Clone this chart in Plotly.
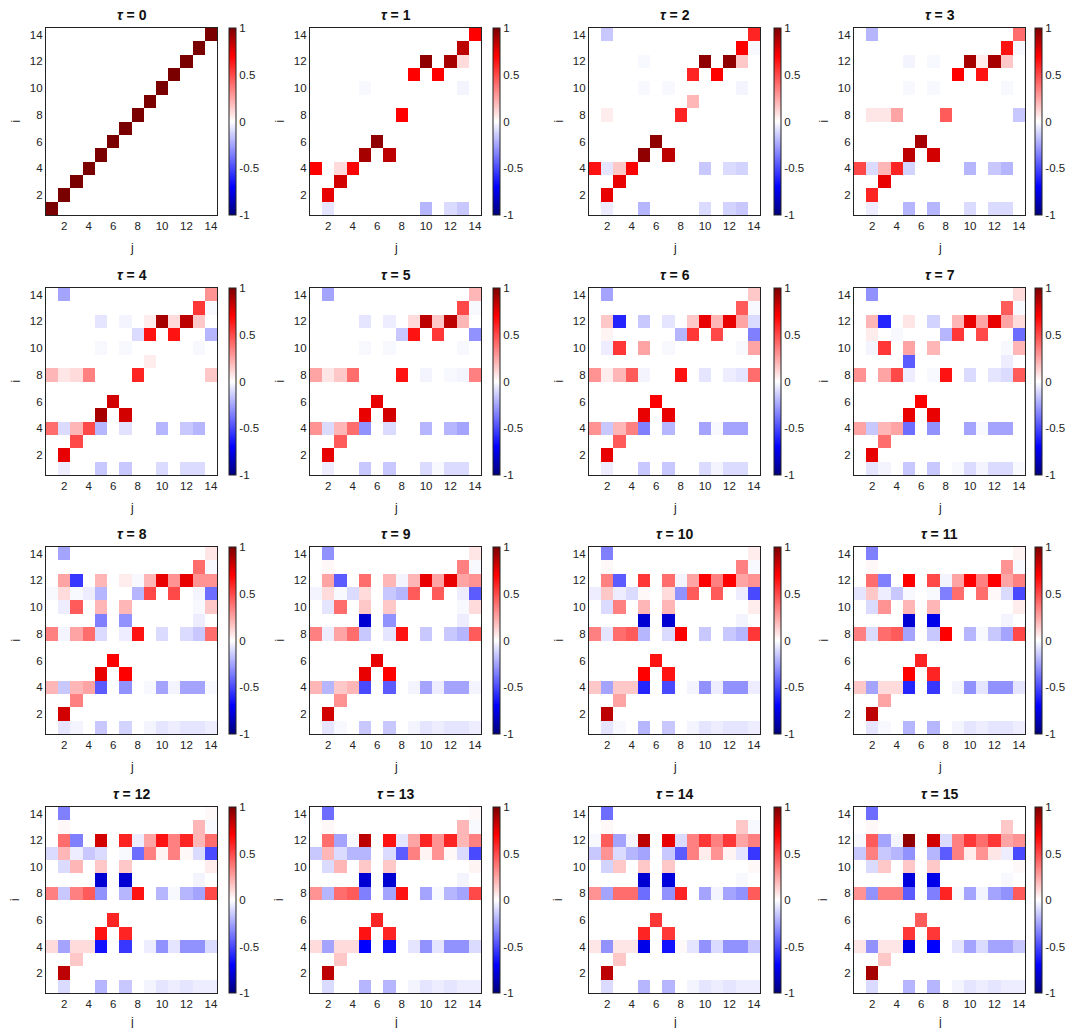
import plotly.graph_objects as go

# grid labels
i_rows = list(range(14, 0, -1))   # matrices below are written top row (i=14) first
j_cols = list(range(1, 15))
tick_vals = [2, 4, 6, 8, 10, 12, 14]
cbar_vals = [-1, -0.5, 0, 0.5, 1]
cbar_text = ["-1", "-0.5", "0", "0.5", "1"]
taus = list(range(16))

tau_00 = [
    [0, 0, 0, 0, 0, 0, 0, 0, 0, 0, 0, 0, 0, 1],
    [0, 0, 0, 0, 0, 0, 0, 0, 0, 0, 0, 0, 1, 0],
    [0, 0, 0, 0, 0, 0, 0, 0, 0, 0, 0, 1, 0, 0],
    [0, 0, 0, 0, 0, 0, 0, 0, 0, 0, 1, 0, 0, 0],
    [0, 0, 0, 0, 0, 0, 0, 0, 0, 1, 0, 0, 0, 0],
    [0, 0, 0, 0, 0, 0, 0, 0, 1, 0, 0, 0, 0, 0],
    [0, 0, 0, 0, 0, 0, 0, 1, 0, 0, 0, 0, 0, 0],
    [0, 0, 0, 0, 0, 0, 1, 0, 0, 0, 0, 0, 0, 0],
    [0, 0, 0, 0, 0, 1, 0, 0, 0, 0, 0, 0, 0, 0],
    [0, 0, 0, 0, 1, 0, 0, 0, 0, 0, 0, 0, 0, 0],
    [0, 0, 0, 1, 0, 0, 0, 0, 0, 0, 0, 0, 0, 0],
    [0, 0, 1, 0, 0, 0, 0, 0, 0, 0, 0, 0, 0, 0],
    [0, 1, 0, 0, 0, 0, 0, 0, 0, 0, 0, 0, 0, 0],
    [1, 0, 0, 0, 0, 0, 0, 0, 0, 0, 0, 0, 0, 0],
]

tau_01 = [
    [0, 0, 0, 0, 0, 0, 0, 0, 0, 0, 0, 0, 0, .7],
    [0, 0, 0, 0, 0, 0, 0, 0, 0, 0, 0, 0, .85, 0],
    [0, 0, 0, 0, 0, 0, 0, 0, 0, .95, 0, .9, .1, 0],
    [0, 0, 0, 0, 0, 0, 0, 0, .7, 0, .7, 0, 0, 0],
    [0, 0, 0, 0, -.02, 0, 0, 0, 0, 0, 0, 0, -.03, 0],
    [0, 0, 0, 0, 0, 0, 0, 0, 0, 0, 0, 0, 0, 0],
    [0, 0, 0, 0, 0, 0, 0, .7, 0, 0, 0, 0, 0, 0],
    [0, 0, 0, 0, 0, 0, 0, 0, 0, 0, 0, 0, 0, 0],
    [0, 0, 0, 0, 0, .95, 0, 0, 0, 0, 0, 0, 0, 0],
    [0, 0, 0, 0, .9, 0, .85, 0, 0, 0, 0, 0, 0, 0],
    [.7, 0, .1, .7, 0, 0, 0, 0, 0, 0, 0, 0, 0, 0],
    [0, 0, .8, 0, 0, 0, 0, 0, 0, 0, 0, 0, 0, 0],
    [0, .75, 0, 0, 0, 0, 0, 0, 0, 0, 0, 0, 0, 0],
    [0, -.07, 0, 0, 0, 0, 0, 0, 0, -.2, 0, -.1, -.15, 0],
]

tau_02 = [
    [0, -.15, 0, 0, 0, 0, 0, 0, 0, 0, 0, 0, 0, .6],
    [0, 0, 0, 0, 0, 0, 0, 0, 0, 0, 0, 0, .7, -.02],
    [0, 0, 0, 0, -.02, 0, 0, 0, 0, .95, 0, .95, .15, 0],
    [0, 0, 0, 0, 0, 0, 0, 0, .6, 0, .7, 0, 0, 0],
    [0, 0, 0, 0, -.02, 0, -.02, 0, 0, 0, 0, 0, -.03, 0],
    [0, 0, 0, 0, 0, 0, 0, 0, .2, 0, 0, 0, 0, 0],
    [0, .05, 0, 0, 0, 0, 0, .6, 0, 0, 0, 0, 0, 0],
    [0, 0, 0, 0, 0, 0, 0, 0, 0, 0, 0, 0, 0, 0],
    [0, 0, 0, 0, 0, .95, 0, 0, 0, 0, 0, 0, 0, 0],
    [0, 0, 0, 0, .95, 0, .85, 0, 0, 0, 0, 0, 0, 0],
    [.65, -.07, .15, .7, 0, 0, 0, 0, 0, -.15, 0, -.1, -.12, 0],
    [0, 0, .75, 0, 0, 0, 0, 0, 0, 0, 0, 0, 0, 0],
    [0, .75, 0, 0, 0, 0, 0, 0, 0, 0, 0, 0, 0, 0],
    [0, -.05, 0, 0, -.2, 0, 0, 0, 0, -.1, 0, -.12, -.15, 0],
]

tau_03 = [
    [0, -.2, 0, 0, 0, 0, 0, 0, 0, 0, 0, 0, 0, .4],
    [0, 0, 0, 0, 0, 0, 0, 0, 0, 0, 0, 0, .65, -.02],
    [0, 0, 0, 0, -.03, 0, -.02, 0, 0, .9, .05, .9, .15, 0],
    [0, 0, 0, 0, 0, 0, 0, 0, .7, 0, .65, 0, 0, 0],
    [0, 0, 0, 0, -.02, 0, -.02, 0, 0, 0, 0, 0, -.02, 0],
    [0, 0, 0, 0, 0, 0, 0, 0, 0, 0, 0, 0, 0, 0],
    [0, .07, .07, .25, 0, 0, 0, .45, 0, 0, 0, 0, 0, -.15],
    [0, 0, 0, 0, 0, 0, 0, 0, 0, 0, 0, 0, 0, 0],
    [0, 0, 0, 0, 0, .9, 0, 0, 0, 0, 0, 0, 0, 0],
    [0, 0, 0, 0, .85, 0, .8, 0, 0, 0, 0, 0, 0, 0],
    [.5, -.1, .2, .6, -.12, 0, 0, 0, 0, -.2, 0, -.15, -.2, 0],
    [0, 0, .75, 0, 0, 0, 0, 0, 0, 0, 0, 0, 0, 0],
    [0, .6, 0, 0, 0, 0, 0, 0, 0, 0, 0, 0, 0, 0],
    [0, -.05, 0, 0, -.2, 0, -.2, 0, 0, -.1, 0, -.1, -.1, 0],
]

tau_04 = [
    [0, -.25, 0, 0, 0, 0, 0, 0, 0, 0, 0, 0, 0, .3],
    [0, 0, 0, 0, 0, 0, 0, 0, 0, 0, 0, 0, .55, -.02],
    [0, 0, 0, 0, -.07, 0, -.03, 0, .05, .9, .1, .85, .15, 0],
    [0, 0, 0, 0, 0, 0, 0, -.1, .65, 0, .65, 0, 0, -.2],
    [0, 0, 0, 0, -.02, 0, -.02, 0, 0, 0, 0, 0, -.02, 0],
    [0, 0, 0, 0, 0, 0, 0, 0, .05, 0, 0, 0, 0, 0],
    [.2, .07, .1, .35, 0, 0, 0, .6, 0, 0, 0, 0, 0, .15],
    [0, 0, 0, 0, 0, 0, 0, 0, 0, 0, 0, 0, 0, 0],
    [0, 0, 0, 0, 0, .8, 0, 0, 0, 0, 0, 0, 0, 0],
    [0, 0, 0, 0, .9, 0, .8, 0, 0, 0, 0, 0, 0, 0],
    [.4, -.1, .2, .5, -.2, 0, -.08, 0, 0, -.2, 0, -.15, -.2, 0],
    [0, 0, .5, 0, 0, 0, 0, 0, 0, 0, 0, 0, 0, 0],
    [0, .75, 0, 0, 0, 0, 0, 0, 0, 0, 0, 0, 0, 0],
    [0, -.05, 0, 0, -.15, 0, -.15, 0, 0, -.1, 0, -.1, -.1, 0],
]

tau_05 = [
    [0, -.25, 0, 0, 0, 0, 0, 0, 0, 0, 0, 0, 0, .2],
    [0, 0, 0, 0, 0, 0, 0, 0, 0, 0, 0, 0, .5, -.02],
    [0, 0, 0, 0, -.07, 0, -.05, 0, .1, .85, .15, .85, .2, 0],
    [0, 0, 0, 0, 0, 0, 0, -.15, .65, 0, .55, 0, 0, -.3],
    [0, 0, 0, 0, -.02, 0, -.02, 0, 0, 0, 0, 0, -.02, 0],
    [0, 0, 0, 0, 0, 0, 0, 0, 0, 0, 0, 0, 0, 0],
    [.25, .07, .15, .4, 0, 0, 0, .65, 0, -.03, 0, -.02, -.03, .35],
    [0, 0, 0, 0, 0, 0, 0, 0, 0, 0, 0, 0, 0, 0],
    [0, 0, 0, 0, 0, .75, 0, 0, 0, 0, 0, 0, 0, 0],
    [0, 0, 0, 0, .75, 0, .8, 0, 0, 0, 0, 0, 0, 0],
    [.3, -.1, .2, .4, -.3, 0, -.1, 0, 0, -.2, 0, -.2, -.25, 0],
    [0, 0, .45, 0, 0, 0, 0, 0, 0, 0, 0, 0, 0, 0],
    [0, .75, 0, 0, 0, 0, 0, 0, 0, 0, 0, 0, 0, 0],
    [0, -.05, 0, 0, -.15, 0, -.15, 0, 0, -.1, -.02, -.1, -.1, 0],
]

tau_06 = [
    [0, -.25, 0, 0, 0, 0, 0, 0, 0, 0, 0, 0, 0, .15],
    [0, 0, 0, 0, 0, 0, 0, 0, 0, 0, 0, 0, .45, -.02],
    [0, .15, -.6, 0, -.15, 0, -.07, 0, .15, .75, .2, .75, .25, -.1],
    [0, .03, 0, 0, 0, 0, 0, -.2, .55, 0, .5, 0, 0, -.35],
    [0, -.05, .55, 0, .25, 0, -.02, 0, 0, 0, 0, 0, -.02, .25],
    [0, 0, 0, 0, 0, 0, 0, 0, 0, 0, 0, 0, 0, 0],
    [.3, .05, .2, .45, -.03, 0, 0, .65, 0, -.07, 0, -.05, -.07, .4],
    [0, 0, 0, 0, 0, 0, 0, 0, 0, 0, 0, 0, 0, 0],
    [0, 0, 0, 0, 0, .7, 0, 0, 0, 0, 0, 0, 0, 0],
    [0, 0, 0, 0, .75, 0, .75, 0, 0, 0, 0, 0, 0, 0],
    [.3, -.15, .2, .35, -.35, 0, -.2, 0, 0, -.25, -.02, -.25, -.25, 0],
    [0, 0, .45, 0, 0, 0, 0, 0, 0, 0, 0, 0, 0, 0],
    [0, .75, 0, 0, 0, 0, 0, 0, 0, 0, 0, 0, 0, 0],
    [0, -.05, 0, 0, -.15, 0, -.15, 0, 0, -.1, -.03, -.1, -.1, 0],
]

tau_07 = [
    [0, -.3, 0, 0, 0, 0, 0, 0, 0, 0, 0, 0, 0, .1],
    [0, 0, 0, 0, 0, 0, 0, 0, 0, 0, 0, 0, .45, -.02],
    [0, .2, -.6, 0, .07, 0, -.12, 0, .2, .75, .25, .75, .25, .1],
    [0, .05, 0, -.02, 0, 0, 0, -.2, .55, 0, .5, 0, 0, -.4],
    [0, -.03, .55, 0, .25, 0, .2, 0, 0, 0, 0, 0, -.02, .2],
    [0, 0, 0, 0, -.45, 0, 0, 0, 0, 0, 0, 0, -.05, 0],
    [.3, 0, .25, .5, -.05, 0, -.02, .65, 0, -.1, 0, -.07, -.1, .45],
    [0, 0, 0, 0, 0, 0, 0, 0, 0, 0, 0, 0, 0, 0],
    [0, 0, 0, 0, 0, .7, 0, 0, 0, 0, 0, 0, 0, 0],
    [0, 0, 0, 0, .75, 0, .75, 0, 0, 0, 0, 0, 0, 0],
    [.25, -.15, .2, .25, -.4, 0, -.3, 0, 0, -.25, -.02, -.25, -.25, 0],
    [0, 0, .4, 0, 0, 0, 0, 0, 0, 0, 0, 0, 0, 0],
    [0, .75, 0, 0, 0, 0, 0, 0, 0, 0, 0, 0, 0, 0],
    [0, -.07, -.03, 0, -.15, 0, -.15, 0, -.02, -.1, -.03, -.1, -.1, -.02],
]

tau_08 = [
    [0, -.25, 0, 0, 0, 0, 0, 0, 0, 0, 0, 0, 0, .07],
    [0, 0, 0, 0, 0, 0, 0, 0, 0, 0, 0, 0, .4, -.02],
    [0, .25, -.55, 0, .2, 0, .05, -.02, .2, .75, .3, .75, .3, .3],
    [-.02, .1, -.02, -.05, -.2, 0, 0, -.2, .5, 0, .5, 0, -.03, -.4],
    [0, -.05, .45, 0, .2, 0, .2, 0, 0, 0, 0, 0, -.02, .15],
    [0, 0, 0, 0, -.35, 0, -.3, 0, 0, 0, 0, 0, -.05, 0],
    [.35, -.03, .25, .4, -.1, 0, -.05, .65, 0, -.1, 0, -.1, -.15, .4],
    [0, 0, 0, 0, 0, 0, 0, 0, 0, 0, 0, 0, 0, 0],
    [0, 0, 0, 0, 0, .7, 0, 0, 0, 0, 0, 0, 0, 0],
    [0, 0, 0, 0, .75, 0, .7, 0, 0, 0, 0, 0, 0, 0],
    [.2, -.15, .2, .25, -.45, 0, -.3, 0, -.02, -.25, -.03, -.25, -.25, -.02],
    [0, 0, .35, 0, 0, 0, 0, 0, 0, 0, 0, 0, 0, 0],
    [0, .8, 0, 0, 0, 0, 0, 0, 0, 0, 0, 0, 0, 0],
    [0, -.07, -.03, 0, -.15, 0, -.12, 0, -.03, -.07, -.05, -.07, -.07, -.05],
]

tau_09 = [
    [0, -.3, 0, 0, 0, 0, 0, 0, 0, 0, 0, 0, 0, .07],
    [0, .02, 0, 0, 0, 0, 0, 0, 0, 0, 0, 0, .35, -.02],
    [0, .25, -.45, 0, .4, 0, .2, -.03, .2, .75, .25, .75, .25, .3],
    [-.03, .1, -.02, -.1, .1, 0, -.15, -.2, .45, 0, .45, 0, -.05, -.45],
    [0, -.07, .4, 0, .15, 0, .15, 0, 0, 0, 0, 0, -.02, .1],
    [0, 0, 0, 0, -.8, 0, -.3, 0, 0, 0, 0, 0, -.05, 0],
    [.35, -.05, .25, .4, -.15, 0, -.07, .65, 0, -.15, 0, -.15, -.2, .45],
    [0, 0, 0, 0, 0, 0, 0, 0, 0, 0, 0, 0, 0, 0],
    [0, 0, 0, 0, 0, .75, 0, 0, 0, 0, 0, 0, 0, 0],
    [0, 0, 0, 0, .75, 0, .7, 0, 0, 0, 0, 0, 0, 0],
    [.2, -.2, .15, .2, -.5, 0, -.45, 0, -.03, -.25, -.05, -.25, -.25, -.03],
    [0, 0, .3, 0, 0, 0, 0, 0, 0, 0, 0, 0, 0, 0],
    [0, .8, 0, 0, 0, 0, 0, 0, 0, 0, 0, 0, 0, 0],
    [0, -.07, -.02, 0, -.15, 0, -.15, 0, -.03, -.07, -.05, -.07, -.07, -.05],
]

tau_10 = [
    [0, -.35, 0, 0, 0, 0, 0, 0, 0, 0, 0, 0, 0, .05],
    [0, .02, 0, 0, 0, 0, 0, 0, 0, 0, 0, 0, .35, -.02],
    [0, .35, -.45, 0, .55, 0, .4, -.03, .25, .7, .35, .7, .25, .3],
    [-.05, .15, -.05, -.1, .02, 0, .1, -.3, .45, 0, .45, 0, -.05, -.5],
    [0, -.1, .35, 0, .2, 0, .2, 0, 0, 0, 0, 0, 0, .05],
    [0, 0, 0, 0, -.8, 0, -.8, 0, 0, 0, 0, 0, -.03, 0],
    [.35, -.07, .4, .45, -.2, 0, -.1, .7, 0, -.15, 0, -.15, -.2, .55],
    [0, 0, 0, 0, 0, 0, 0, 0, 0, 0, 0, 0, 0, 0],
    [0, 0, 0, 0, 0, .65, 0, 0, 0, 0, 0, 0, 0, 0],
    [0, 0, 0, 0, .7, 0, .65, 0, 0, 0, 0, 0, 0, 0],
    [.15, -.25, .15, .15, -.6, 0, -.5, 0, -.03, -.3, -.05, -.3, -.3, -.05],
    [0, 0, .25, 0, 0, 0, 0, 0, 0, 0, 0, 0, 0, 0],
    [0, .85, 0, 0, 0, 0, 0, 0, 0, 0, 0, 0, 0, 0],
    [0, -.07, -.02, 0, -.2, 0, -.15, 0, -.03, -.07, -.05, -.07, -.07, -.05],
]

tau_11 = [
    [0, -.35, 0, 0, 0, 0, 0, 0, 0, 0, 0, 0, 0, .03],
    [0, .02, 0, 0, 0, 0, 0, 0, 0, 0, 0, 0, .3, -.02],
    [0, .4, -.35, 0, .7, 0, .5, -.03, .25, .7, .35, .7, .25, .35],
    [-.07, .15, -.05, -.15, -.02, 0, -.02, -.35, .4, 0, .4, .02, -.1, -.5],
    [0, -.1, .3, 0, .2, 0, .2, 0, 0, 0, 0, 0, 0, .05],
    [0, 0, 0, 0, -.8, 0, -.75, 0, 0, 0, 0, 0, -.03, 0],
    [.35, -.1, .4, .45, -.25, 0, -.15, .7, 0, -.2, -.02, -.15, -.25, .5],
    [0, 0, 0, 0, 0, 0, 0, 0, 0, 0, 0, 0, 0, 0],
    [0, 0, 0, 0, 0, .6, 0, 0, 0, 0, 0, 0, 0, 0],
    [0, 0, 0, 0, .7, 0, .6, 0, 0, 0, 0, 0, 0, 0],
    [.15, -.25, .1, .1, -.6, 0, -.55, 0, -.03, -.3, -.07, -.3, -.3, -.07],
    [0, 0, .25, 0, 0, 0, 0, 0, 0, 0, 0, 0, 0, 0],
    [0, .85, 0, 0, 0, 0, 0, 0, 0, 0, 0, 0, 0, 0],
    [0, -.07, -.02, 0, -.2, 0, -.2, 0, -.03, -.07, -.05, -.07, -.07, -.05],
]

tau_12 = [
    [0, -.35, 0, 0, 0, 0, 0, 0, 0, 0, 0, 0, 0, .02],
    [0, .02, 0, 0, 0, 0, 0, 0, 0, 0, 0, 0, .2, -.02],
    [0, .4, -.35, 0, .8, 0, .6, -.05, .25, .65, .35, .6, .2, .4],
    [-.1, .2, -.05, -.15, -.1, 0, -.02, -.4, .35, .03, .35, .02, -.1, -.5],
    [0, -.1, .2, 0, .15, 0, .15, 0, 0, 0, 0, 0, 0, .05],
    [0, 0, 0, 0, -.8, 0, -.8, 0, 0, 0, 0, 0, -.03, 0],
    [.35, -.15, .35, .45, -.3, 0, -.2, .65, 0, -.2, -.02, -.2, -.25, .5],
    [0, 0, 0, 0, 0, 0, 0, 0, 0, 0, 0, 0, 0, 0],
    [0, 0, 0, 0, 0, .6, 0, 0, 0, 0, 0, 0, 0, 0],
    [0, 0, 0, 0, .65, 0, .6, 0, 0, 0, 0, 0, 0, 0],
    [.1, -.25, .1, .1, -.65, 0, -.55, 0, -.05, -.3, -.07, -.3, -.3, -.1],
    [0, 0, .15, 0, 0, 0, 0, 0, 0, 0, 0, 0, 0, 0],
    [0, .85, 0, 0, 0, 0, 0, 0, 0, 0, 0, 0, 0, 0],
    [0, -.1, 0, 0, -.2, 0, -.15, 0, -.03, -.07, -.05, -.07, -.05, -.05],
]

tau_13 = [
    [0, -.4, 0, 0, 0, 0, 0, 0, 0, 0, 0, 0, 0, .02],
    [0, .02, 0, 0, 0, 0, 0, 0, 0, 0, 0, 0, .2, -.02],
    [0, .4, -.25, -.02, .85, 0, .65, -.07, .25, .6, .3, .6, .2, .35],
    [-.15, .2, -.1, -.2, -.2, 0, -.1, -.45, .35, .03, .3, .02, -.1, -.5],
    [0, -.1, .2, 0, .15, 0, .15, 0, 0, 0, 0, 0, 0, .03],
    [0, 0, 0, 0, -.8, 0, -.8, 0, 0, 0, 0, 0, -.03, 0],
    [.3, -.2, .4, .45, -.35, 0, -.25, .65, 0, -.25, -.02, -.2, -.25, .5],
    [0, 0, 0, 0, 0, 0, 0, 0, 0, 0, 0, 0, 0, 0],
    [0, 0, 0, 0, 0, .6, 0, 0, 0, 0, 0, 0, 0, 0],
    [0, 0, 0, 0, .65, 0, .6, 0, 0, 0, 0, 0, 0, 0],
    [.1, -.25, .1, .1, -.7, 0, -.65, 0, -.07, -.3, -.07, -.3, -.3, -.1],
    [0, 0, .15, 0, 0, 0, 0, 0, 0, 0, 0, 0, 0, 0],
    [0, .85, 0, 0, 0, 0, 0, 0, 0, 0, 0, 0, 0, 0],
    [0, -.1, 0, 0, -.2, 0, -.2, 0, -.03, -.07, -.05, -.07, -.05, -.05],
]

tau_14 = [
    [0, -.4, 0, 0, 0, 0, 0, 0, 0, 0, 0, 0, 0, 0],
    [0, .02, 0, 0, 0, 0, 0, 0, 0, 0, 0, 0, .15, -.02],
    [-.02, .45, -.25, -.03, .85, 0, .75, -.1, .35, .55, .35, .55, .25, .35],
    [-.15, .3, -.1, -.2, -.25, 0, -.15, -.45, .35, .05, .3, .03, -.07, -.55],
    [0, -.12, .15, 0, .15, 0, .15, 0, 0, 0, 0, 0, 0, .02],
    [0, 0, 0, 0, -.8, 0, -.78, 0, 0, 0, 0, 0, -.02, 0],
    [.3, -.25, .4, .4, -.4, 0, -.3, .6, 0, -.25, -.03, -.25, -.3, .45],
    [0, 0, 0, 0, 0, 0, 0, 0, 0, 0, 0, 0, 0, 0],
    [0, 0, 0, 0, 0, .55, 0, 0, 0, 0, 0, 0, 0, 0],
    [0, 0, 0, 0, .6, 0, .55, 0, 0, 0, 0, 0, 0, 0],
    [.07, -.3, .07, .07, -.75, 0, -.65, .02, -.07, -.3, -.1, -.3, -.3, -.15],
    [0, 0, .15, 0, 0, 0, 0, 0, 0, 0, 0, 0, 0, 0],
    [0, .85, 0, 0, 0, 0, 0, 0, 0, 0, 0, 0, 0, 0],
    [0, -.1, 0, 0, -.2, 0, -.2, 0, -.03, -.07, -.05, -.07, -.05, -.05],
]

tau_15 = [
    [0, -.4, 0, 0, 0, 0, 0, 0, 0, 0, 0, 0, 0, 0],
    [0, .02, 0, 0, 0, 0, 0, 0, 0, 0, 0, 0, .15, 0],
    [-.02, .45, -.25, -.03, .95, 0, .8, -.1, .35, .55, .4, .55, .25, .3],
    [-.15, .35, -.15, -.2, -.3, 0, -.2, -.45, .35, .05, .3, .07, -.05, -.5],
    [0, -.1, .15, 0, .15, 0, .15, 0, 0, 0, 0, 0, 0, .02],
    [0, 0, 0, 0, -.78, 0, -.75, 0, 0, 0, 0, 0, -.02, 0],
    [.3, -.3, .35, .35, -.45, 0, -.35, .6, -.02, -.25, -.03, -.25, -.3, .45],
    [0, 0, 0, 0, 0, 0, 0, 0, 0, 0, 0, 0, 0, 0],
    [0, 0, 0, 0, 0, .45, 0, 0, 0, 0, 0, 0, 0, 0],
    [0, 0, 0, 0, .55, 0, .55, 0, 0, 0, 0, 0, 0, 0],
    [.07, -.3, .07, .07, -.75, 0, -.7, 0, -.07, -.25, -.1, -.25, -.25, -.15],
    [0, 0, .15, 0, 0, 0, 0, 0, 0, 0, 0, 0, 0, 0],
    [0, .9, 0, 0, 0, 0, 0, 0, 0, 0, 0, 0, 0, 0],
    [0, -.1, 0, 0, -.2, 0, -.2, 0, -.03, -.07, -.05, -.07, -.05, -.05],
]

matrices = [tau_00, tau_01, tau_02, tau_03, tau_04, tau_05, tau_06, tau_07,
            tau_08, tau_09, tau_10, tau_11, tau_12, tau_13, tau_14, tau_15]

# blue-white-red map, dark ends like the MATLAB one in the figure
redblue = [
    [0.0, "#00007a"],
    [0.15, "#0000ff"],
    [0.5, "#ffffff"],
    [0.85, "#ff0000"],
    [1.0, "#7a0000"],
]

W, H = 1084, 1028
FONT = "Liberation Sans, Arial, sans-serif"

# pixel layout of the 4x4 grid (left/right of axes, top/bottom of axes)
col_px = [(38, 209), (302, 473), (581, 752), (846, 1017)]
cbar_left = [221, 485, 766, 1027]
row_px = [(20, 207), (280, 467), (539, 726), (799, 985)]

fig = go.Figure()
annotations = []

for k, (tau, z) in enumerate(zip(taus, matrices)):
    r, c = divmod(k, 4)
    x0, x1 = col_px[c]
    top, bot = row_px[r]
    n = "" if k == 0 else str(k + 1)

    fig.add_trace(go.Heatmap(
        z=z, x=j_cols, y=i_rows,
        zmin=-1, zmax=1, colorscale=redblue,
        xaxis="x" + n, yaxis="y" + n,
        colorbar=dict(
            x=cbar_left[c] / W, xanchor="left",
            y=1 - (top + bot) / 2 / H, yanchor="middle",
            len=(bot - top) / H, lenmode="fraction",
            thickness=7, xpad=0, ypad=0,
            outlinewidth=1, outlinecolor="#222",
            tickvals=cbar_vals, ticktext=cbar_text,
            ticks="",
            tickfont=dict(size=11.5, color="#222", family=FONT),
        ),
        hovertemplate="i=%{y}, j=%{x}: %{z}<extra></extra>",
    ))

    axis_common = dict(
        range=[0.5, 14.5], tickvals=tick_vals, ticks="",
        showline=True, mirror=True, linecolor="#222", linewidth=1.3,
        showgrid=False, zeroline=False,
        tickfont=dict(size=11.5, color="#222", family=FONT),
    )
    fig.layout["xaxis" + n] = dict(axis_common, domain=[x0 / W, x1 / W],
                                   anchor="y" + n)
    fig.layout["yaxis" + n] = dict(axis_common, domain=[1 - bot / H, 1 - top / H],
                                   anchor="x" + n)

    # panel title and axis labels
    annotations.append(dict(
        text=f"<b><i>τ</i> = {tau}</b>", xref="paper", yref="paper",
        x=(x0 + x1) / 2 / W, y=1 - (top - 3) / H, xanchor="center", yanchor="bottom",
        showarrow=False, font=dict(size=14, color="#111", family=FONT),
    ))
    j_gap = 33 if r < 3 else 29
    annotations.append(dict(
        text="j", xref="paper", yref="paper",
        x=(x0 + x1) / 2 / W, y=1 - (bot + j_gap) / H, xanchor="center", yanchor="middle",
        showarrow=False, font=dict(size=12, color="#222", family=FONT),
    ))
    annotations.append(dict(
        text="i", xref="paper", yref="paper", textangle=-90,
        x=(x0 - 31) / W, y=1 - (top + bot) / 2 / H, xanchor="center", yanchor="middle",
        showarrow=False, font=dict(size=12, color="#222", family=FONT),
    ))

fig.update_layout(
    width=W, height=H,
    margin=dict(l=0, r=0, t=0, b=0),
    paper_bgcolor="white", plot_bgcolor="white",
    font=dict(family=FONT, color="#222"),
    annotations=annotations,
    showlegend=False,
)

fig.write_html("out.html")
